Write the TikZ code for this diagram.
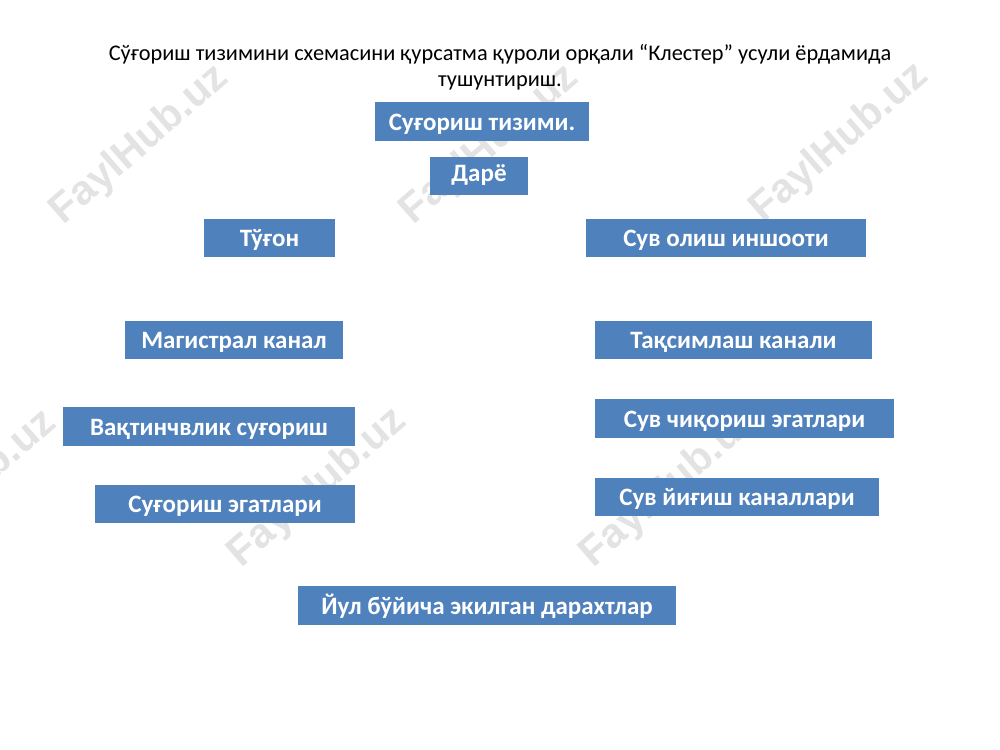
\documentclass[tikz,border=0pt]{standalone}
\usepackage{fontspec}
\setmainfont{Carlito}
\newfontfamily\wmfont{Liberation Sans}
\definecolor{boxblue}{HTML}{4F81BD}
\definecolor{wmgray}{HTML}{E3E3E3}
\begin{document}
\begin{tikzpicture}[x=0.75pt,y=-0.75pt,
  bx/.style={fill=boxblue, draw=none, text=white, inner sep=0pt,
    text height=15pt, text depth=2.2pt,
    font=\fontsize{18.75pt}{22pt}\selectfont\bfseries, anchor=center},
  bsz/.style 2 args={minimum width=#1*0.75pt, minimum height=#2*0.75pt},
  wm/.style={text=wmgray, rotate=41, font=\wmfont\fontsize{31pt}{34pt}\selectfont\bfseries, anchor=center},
  ttl/.style={align=center, font=\fontsize{16.75pt}{19.5pt}\selectfont, text=black, anchor=center}]
\useasboundingbox (0,0) rectangle (1000,750);
\fill[white] (0,0) rectangle (1000,750);
\begin{scope}
\clip (0,0) rectangle (1000,750);
\node[wm] (w1) at (140,145) {FaylHub.uz};
\node[wm] (w2) at (490,145) {FaylHub.uz};
\node[wm] (w3) at (840,143) {FaylHub.uz};
\node[wm] (w4) at (-32,490) {FaylHub.uz};
\node[wm] (w5) at (318,488) {FaylHub.uz};
\node[wm] (w6) at (670,488) {FaylHub.uz};
\end{scope}
\node[ttl] (title) at (500,67) {Сўғориш тизимини схемасини қурсатма қуроли орқали “Клестер” усули ёрдамида\\тушунтириш.};
\node[bx, bsz={214}{39}] (b1) at (482,121.5) {Суғориш тизими.};
\node[bx, bsz={98}{38}, text height=10pt, text depth=2.5pt] (b2) at (479,176) {Дарё};
\node[bx, bsz={131}{38}] (b3) at (269.5,238) {Тўғон};
\node[bx, bsz={280}{38}] (b4) at (726,238) {Сув олиш иншооти};
\node[bx, bsz={218}{38}] (b5) at (234,340) {Магистрал канал};
\node[bx, bsz={277}{38}] (b6) at (733.5,340) {Тақсимлаш канали};
\node[bx, bsz={292}{39}] (b7) at (209,426.5) {Вақтинчвлик суғориш};
\node[bx, bsz={299}{39}] (b8) at (744.5,418.5) {Сув чиқориш эгатлари};
\node[bx, bsz={260}{38}] (b9) at (225,504) {Суғориш эгатлари};
\node[bx, bsz={284}{38}] (b10) at (737,497) {Сув йиғиш каналлари};
\node[bx, bsz={378}{39}] (b11) at (487,605.5) {Йул бўйича экилган дарахтлар};
\end{tikzpicture}
\end{document}
